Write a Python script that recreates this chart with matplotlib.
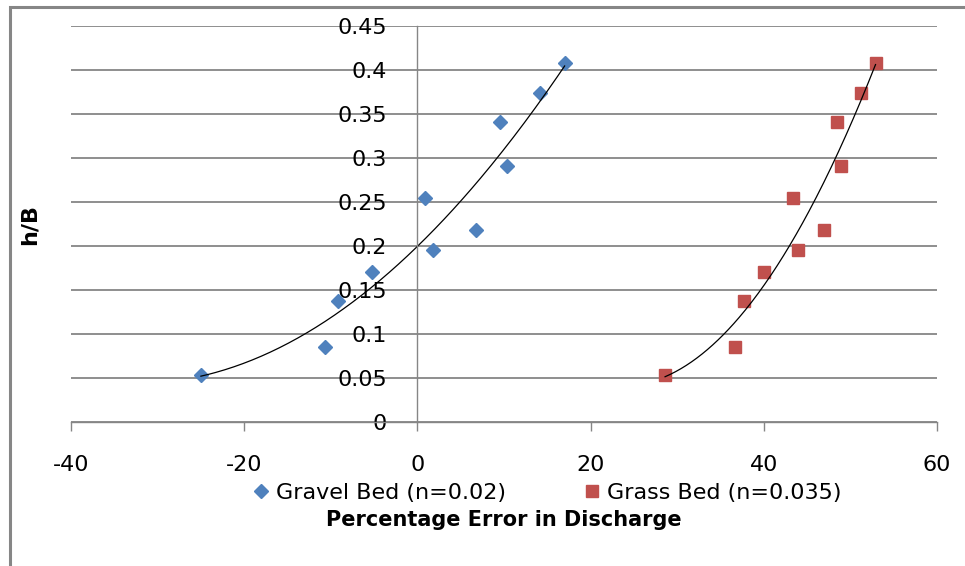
import numpy as np
import matplotlib
matplotlib.use("Agg")
import matplotlib.pyplot as plt
from matplotlib.patches import Rectangle

# Data
h_b = [0.053, 0.085, 0.138, 0.171, 0.255, 0.195, 0.218, 0.341, 0.291, 0.374, 0.408]
gravel_err = [-25.0, -10.7, -9.2, -5.2, 0.9, 1.8, 6.8, 9.5, 10.4, 14.2, 17.0]
grass_err = [28.6, 36.7, 37.7, 40.0, 43.4, 44.0, 46.9, 48.4, 48.9, 51.2, 52.9]
x_ticks = [-40, -20, 0, 20, 40, 60]
y_ticks = [0, 0.05, 0.1, 0.15, 0.2, 0.25, 0.3, 0.35, 0.4, 0.45]

blue = "#4F81BD"
red = "#C0504D"
gray = "#868686"

plt.rcParams['font.family'] = ['DejaVu Sans']
plt.rcParams['axes.unicode_minus'] = False

fig = plt.figure(figsize=(9.65, 5.66), dpi=100)
ax = fig.add_axes([71/965, 144/566, 866/965, 396/566])

ax.set_xlim(-40, 60)
ax.set_ylim(0, 0.45)

# horizontal gridlines
ax.set_yticks(y_ticks)
ax.set_yticklabels([f"{v:g}" for v in y_ticks])
ax.set_xticks(x_ticks)
ax.grid(axis='y', color=gray, linewidth=1.3)
ax.set_axisbelow(True)

# scatter points
ax.plot(gravel_err, h_b, linestyle='none', marker='D', markersize=7,
        color=blue, label="Gravel Bed (n=0.02)")
ax.plot(grass_err, h_b, linestyle='none', marker='s', markersize=9,
        color=red, label="Grass Bed (n=0.035)")

# polynomial (order 2) trendlines
for xs in (gravel_err, grass_err):
    c = np.polyfit(xs, h_b, 2)
    xx = np.linspace(min(xs), max(xs), 200)
    ax.plot(xx, np.polyval(c, xx), color='black', linewidth=0.9)

# axes look like Excel
ax.spines['top'].set_visible(False)
ax.spines['right'].set_visible(False)
ax.spines['left'].set_position(('data', 0))
ax.spines['left'].set_color(gray)
ax.spines['bottom'].set_color(gray)
ax.spines['left'].set_linewidth(1.0)
ax.spines['bottom'].set_linewidth(1.0)
ax.tick_params(axis='y', length=0, pad=22, labelsize=16)
ax.tick_params(axis='x', direction='out', length=6.5, color=gray, width=1.0,
               pad=17, labelsize=16)

ax.set_ylabel("h/B", fontsize=16, fontweight='bold')
ax.yaxis.set_label_coords(-0.036, 0.5)
ax.set_xlabel("Percentage Error in Discharge", fontsize=15, fontweight='bold')
ax.xaxis.set_label_coords(0.5, -0.222)

fig.legend(loc='center', bbox_to_anchor=(548/965, 73/566), ncol=2,
           frameon=False, fontsize=16, handlelength=0.6, handletextpad=0.35,
           columnspacing=3.6, borderpad=0)

# chart frame (only left and top edges visible)
fig.patches.append(Rectangle((10/965, -0.5), 2, (566-7)/566 + 0.5,
                             transform=fig.transFigure, fill=False,
                             edgecolor=gray, linewidth=2.2))

fig.savefig("out.png", dpi=100)
